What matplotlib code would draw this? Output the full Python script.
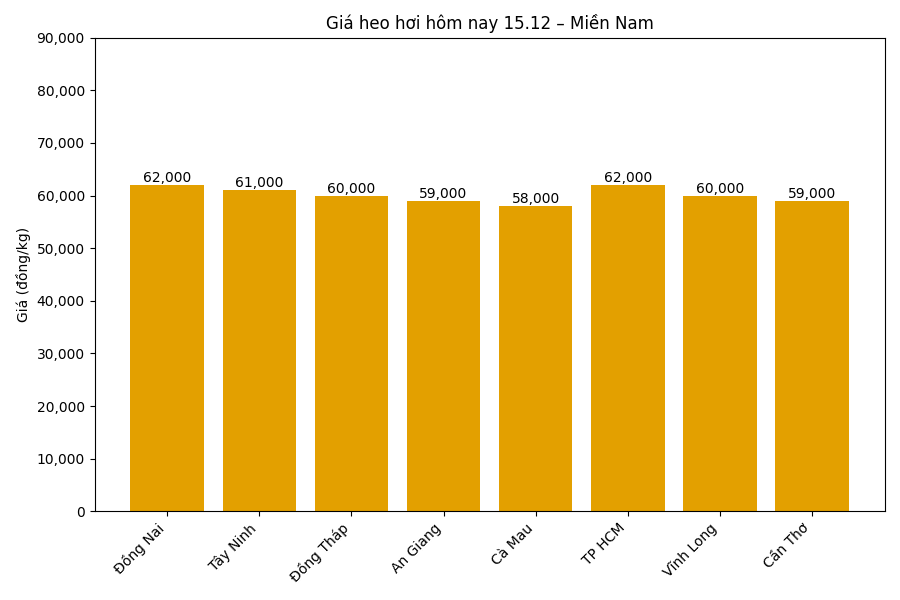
import matplotlib
matplotlib.use("Agg")
import matplotlib.pyplot as plt
from matplotlib.ticker import FuncFormatter

provinces = ["Đồng Nai", "Tây Ninh", "Đồng Tháp", "An Giang", "Cà Mau", "TP HCM", "Vĩnh Long", "Cần Thơ"]
prices = [62000, 61000, 60000, 59000, 58000, 62000, 60000, 59000]

fig, ax = plt.subplots(figsize=(9, 6), dpi=100)
bars = ax.bar(provinces, prices, color="#E3A000")
for b, v in zip(bars, prices):
    ax.text(b.get_x() + b.get_width()/2, v, f"{v:,}", ha="center", va="bottom", fontsize=10)
ax.set_ylim(0, 90000)
ax.set_yticks(range(0, 90001, 10000))
ax.yaxis.set_major_formatter(FuncFormatter(lambda x, p: f"{int(x):,}"))
ax.set_ylabel("Giá (đồng/kg)")
ax.set_title("Giá heo hơi hôm nay 15.12 – Miền Nam")
plt.setp(ax.get_xticklabels(), rotation=45, ha="right")
fig.subplots_adjust(left=0.105, right=0.983, top=0.937, bottom=0.148)
fig.savefig("out.png")
